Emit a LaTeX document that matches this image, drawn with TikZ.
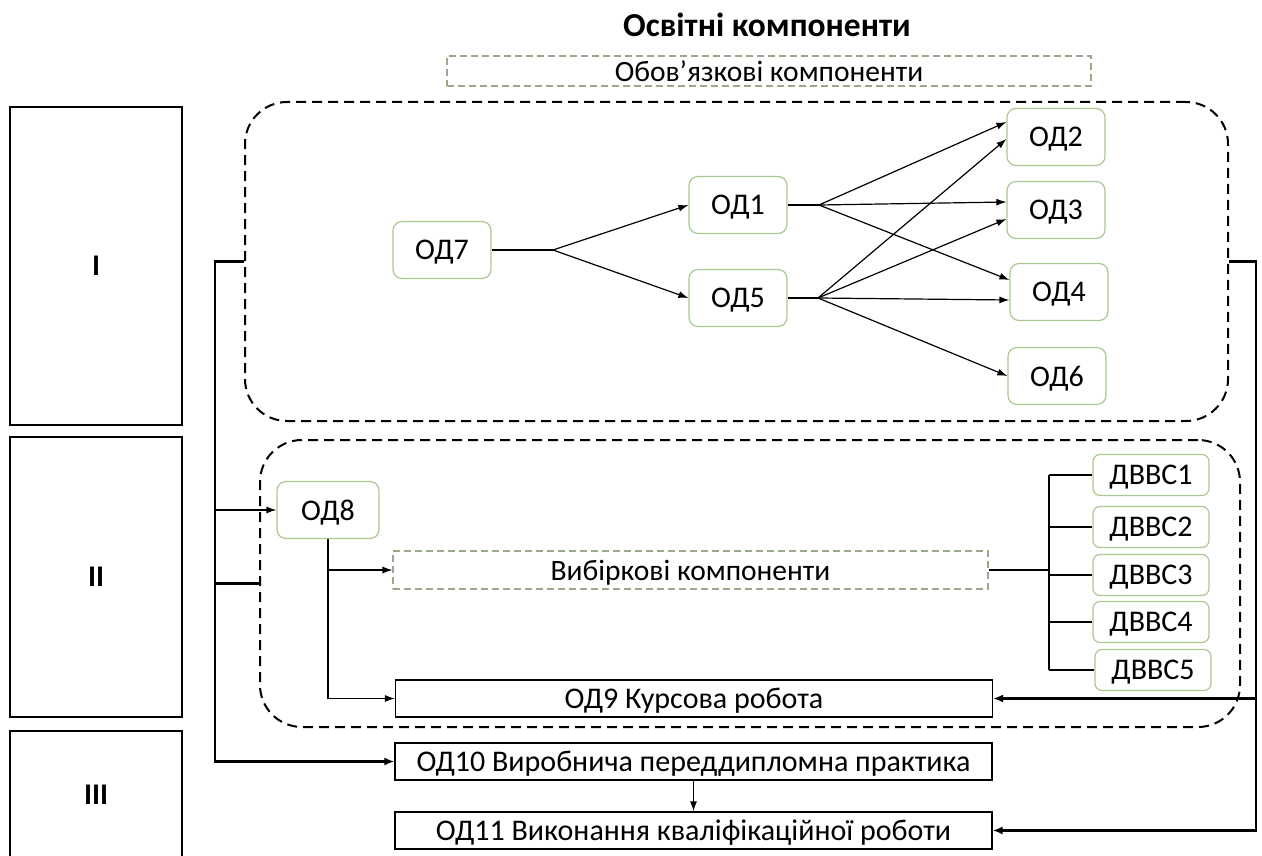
\documentclass[tikz,border=0pt]{standalone}
\usepackage{fontspec}
\setmainfont{Carlito}
\usetikzlibrary{arrows.meta}
\definecolor{gb}{HTML}{A9C894}
\definecolor{dg}{HTML}{9AA88C}
\begin{document}
\begin{tikzpicture}[x=1pt,y=-1pt,
 od/.style={draw=gb, line width=1.2pt, rounded corners=9pt, fill=white, minimum width=98pt, minimum height=57pt, inner sep=0pt, text depth=0pt, font=\fontsize{30}{34}\selectfont},
 dv/.style={draw=gb, line width=1.2pt, rounded corners=7pt, fill=white, minimum width=116pt, minimum height=41pt, inner sep=0pt, text depth=0pt, font=\fontsize{30}{34}\selectfont},
 wide/.style={draw=black, line width=1.2pt, minimum width=597pt, minimum height=37pt, inner sep=0pt, text depth=0pt, font=\fontsize{30}{34}\selectfont},
 lab/.style={draw=dg, line width=1.1pt, dash pattern=on 7pt off 4pt, inner sep=0pt, text depth=0pt, font=\fontsize{29.5}{34}\selectfont},
 cont/.style={draw=black, line width=2pt, dash pattern=on 10pt off 6pt, rounded corners=42pt, inner sep=0pt},
 stage/.style={draw=black, line width=1.2pt, minimum width=172pt, inner sep=0pt, text depth=0pt, font=\bfseries\fontsize{30}{34}\selectfont},
 ln/.style={line width=1.2pt},
 ar/.style={line width=1.2pt, -{Latex[length=10pt,width=7pt]}},
 thk/.style={line width=2.2pt},
 thka/.style={line width=2.2pt, -{Latex[length=10pt,width=8pt]}},
]
\useasboundingbox (0,0) rectangle (1262,856);
% stages
\node[stage, minimum height=318pt] (s1) at (96,266) {I};
\node[stage, minimum height=280pt] (s2) at (96,577) {II};
\node[stage, minimum height=128pt] (s3) at (96,795) {III};
% title
\node[font=\bfseries\fontsize{33.5}{38}\selectfont, text depth=0pt] (title) at (767,25) {Освітні компоненти};
\node[lab, minimum width=644pt, minimum height=30pt] (obov) at (769,71) {Обов’язкові компоненти};
% containers
\node[cont, minimum width=983pt, minimum height=319pt] (c1) at (736.5,261.5) {};
\node[cont, minimum width=980pt, minimum height=287pt] (c2) at (750,583.5) {};
% obligatory nodes
\node[od] (od7) at (442,250) {ОД7};
\node[od] (od1) at (738,205) {ОД1};
\node[od] (od5) at (738,298) {ОД5};
\node[od] (od2) at (1056,137) {ОД2};
\node[od] (od3) at (1056,210) {ОД3};
\node[od] (od4) at (1059,292) {ОД4};
\node[od] (od6) at (1057,376) {ОД6};
\node[od, minimum width=102pt] (od8) at (328,510) {ОД8};
% elective
\node[lab, minimum width=595pt, minimum height=38pt] (vyb) at (690.5,570) {Вибіркові компоненти};
\node[dv] (dv1) at (1151,475) {ДВВС1};
\node[dv] (dv2) at (1151,527) {ДВВС2};
\node[dv] (dv3) at (1151,575) {ДВВС3};
\node[dv] (dv4) at (1151,622) {ДВВС4};
\node[dv] (dv5) at (1153,670) {ДВВС5};
% wide boxes
\node[wide] (od9) at (694,698.5) {ОД9 Курсова робота};
\node[wide] (od10) at (693.5,761.5) {ОД10 Виробнича переддипломна практика};
\node[wide] (od11) at (693.5,830.5) {ОД11 Виконання кваліфікаційної роботи};
% junctions
\coordinate (j7) at (553,250);
\coordinate (j1) at (819,205);
\coordinate (j5) at (818,298);
\coordinate (bus) at (1049,570);
\coordinate (lt) at (215,261.5);
\coordinate (rt) at (1256,261.5);
% connectors in block I
\draw[ln] (od7.east) -- (j7);
\draw[ar] (j7) -- (od1.west);
\draw[ar] (j7) -- (od5.west);
\draw[ln] (od1.east) -- (j1);
\draw[ar] (j1) -- ([yshift=15pt]od2.west);
\draw[ar] (j1) -- ([yshift=8pt]od3.west);
\draw[ar] (j1) -- ([yshift=12pt]od4.west);
\draw[ln] (od5.east) -- (j5);
\draw[ar] (j5) -- ([yshift=-2pt]od2.west);
\draw[ar] (j5) -- ([yshift=-9pt]od3.west);
\draw[ar] (j5) -- ([yshift=-8pt]od4.west);
\draw[ar] (j5) -- (od6.west);
% block II
\draw[ln] (od8.south) -- (od8.south |- od9.west);
\draw[ar] (od8.south |- vyb.west) -- (vyb.west);
\draw[ar] (od8.south |- od9.west) -- (od9.west);
\draw[ln] (vyb.east) -- (bus);
\draw[ln] (bus |- dv1.west) -- (bus |- dv5.west);
\draw[ln] (bus |- dv1.west) -- (dv1.west);
\draw[ln] (bus |- dv2.west) -- (dv2.west);
\draw[ln] (bus |- dv3.west) -- (dv3.west);
\draw[ln] (bus |- dv4.west) -- (dv4.west);
\draw[ln] (bus |- dv5.west) -- (dv5.west);
% left connector
\draw[thka] (c1.west) -- (lt) |- (od10.west);
\draw[thk] (c2.west) -- (c2.west -| lt);
\draw[ar] (od8.west -| lt) -- (od8.west);
% right connector
\draw[thka] (c1.east) -- (rt) |- (od11.east);
\draw[thka] (od9.east -| rt) -- (od9.east);
% block III
\draw[ar] (od10.south) -- (od11.north);
\end{tikzpicture}
\end{document}
